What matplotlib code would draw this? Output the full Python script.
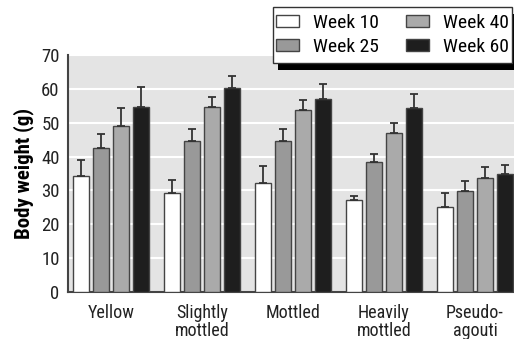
import numpy as np
import matplotlib
matplotlib.use("Agg")
import matplotlib.pyplot as plt
from matplotlib.patches import Rectangle

plt.rcParams["font.family"] = ["Roboto Condensed", "Archivo Narrow", "PT Sans Narrow",
                               "Liberation Sans Narrow", "DejaVu Sans"]

categories = ["Yellow", "Slightly\nmottled", "Mottled", "Heavily\nmottled", "Pseudo-\nagouti"]
series_names = ["Week 10", "Week 25", "Week 40", "Week 60"]
week10 = [34.3, 29.1, 32.1, 27.3, 25.2]
week25 = [42.6, 44.6, 44.6, 38.3, 29.9]
week40 = [49.1, 54.7, 53.7, 47.1, 33.8]
week60 = [54.7, 60.4, 57.1, 54.4, 35.0]
err10 = [4.6, 4.1, 5.1, 1.0, 4.1]
err25 = [4.0, 3.4, 3.4, 2.4, 2.9]
err40 = [5.1, 2.9, 3.1, 2.8, 3.0]
err60 = [5.9, 3.3, 4.2, 4.2, 2.5]

colors = ["#ffffff", "#999999", "#aaaaaa", "#1e1e1e"]

fig = plt.figure(figsize=(5.14, 3.39), dpi=100)
ax = fig.add_axes([68 / 514, 47 / 339, 1 - 68 / 514, 237 / 339])
ax.set_facecolor("#e4e4e4")

x = np.arange(len(categories))
pitch = 0.22
width = 0.17
for i, (vals, errs) in enumerate(zip([week10, week25, week40, week60],
                                     [err10, err25, err40, err60])):
    pos = x + (i - 1.5) * pitch
    ax.bar(pos, vals, width, color=colors[i], edgecolor="#444444",
           linewidth=1.0, label=series_names[i], zorder=3)
    ax.errorbar(pos, vals, yerr=[np.zeros(len(vals)), errs], fmt="none",
                ecolor="#333333", elinewidth=1.3, capsize=3.2, capthick=1.3,
                zorder=4)

ax.set_xlim(-0.473, 4.43)
ax.set_ylim(0, 70)
ax.set_yticks(range(0, 80, 10))
ax.yaxis.grid(True, color="white", linewidth=1.5, zorder=0)
ax.set_axisbelow(True)
ax.tick_params(axis="y", length=0, pad=6, labelsize=13.5, labelcolor="#222222")
ax.set_xticks(x)
ax.set_xticklabels(categories, fontsize=13, linespacing=0.95, color="#222222")
ax.tick_params(axis="x", length=0, pad=9)
ax.set_ylabel("Body weight (g)", fontsize=15, fontweight="bold", labelpad=5)
for s in ["top", "right"]:
    ax.spines[s].set_visible(False)
ax.spines["left"].set_color("#444444")
ax.spines["left"].set_linewidth(1.5)
ax.spines["bottom"].set_color("#444444")
ax.spines["bottom"].set_linewidth(1.5)

# legend box with offset black shadow
bx0, bx1 = 273 / 514, 512 / 514
by0, by1 = 1 - 63 / 339, 1 - 7 / 339
fig.patches.append(Rectangle((bx0 + 5 / 514, by0 - 7 / 339), bx1 - bx0, by1 - by0,
                             transform=fig.transFigure, facecolor="black",
                             edgecolor="none", zorder=5))
fig.patches.append(Rectangle((bx0, by0), bx1 - bx0, by1 - by0,
                             transform=fig.transFigure, facecolor="white",
                             edgecolor="#333333", linewidth=1.0, zorder=6))
handles, labels = ax.get_legend_handles_labels()
leg = fig.legend(handles, labels, ncol=2, loc="center",
                 bbox_to_anchor=((bx0 + bx1) / 2, (by0 + by1) / 2),
                 frameon=False, fontsize=14, handlelength=1.2, handleheight=0.6,
                 handletextpad=0.7, columnspacing=1.4, labelspacing=0.3)
leg.set_zorder(7)

fig.savefig("out.png", dpi=100)
